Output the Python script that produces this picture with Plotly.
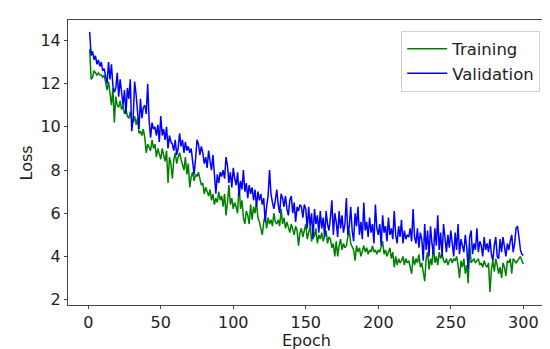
import plotly.graph_objects as go

epochs = list(range(1, 301))

training = [
    13.6, 12.2, 12.3, 12.6, 12.5, 12.4, 12.5, 12.4, 12.4, 12.3,
    12.4, 12.0, 11.7, 12.1, 11.5, 11.0, 11.8, 10.2, 11.4, 11.0,
    10.9, 11.2, 10.8, 11.0, 10.6, 10.8, 10.5, 10.4, 10.7, 10.3,
    10.2, 10.5, 10.1, 10.4, 9.7, 9.8, 9.6, 9.9, 9.5, 8.8,
    9.2, 9.0, 8.9, 9.4, 9.0, 9.2, 8.6, 9.0, 8.8, 8.5,
    9.0, 8.7, 8.4, 8.9, 7.4, 8.6, 8.3, 7.6, 8.5, 8.8,
    8.3, 8.6, 8.8, 8.5, 8.2, 8.0, 8.6, 7.8, 8.3, 7.2,
    7.7, 7.9, 7.5, 7.8, 7.7, 7.9, 7.6, 7.3, 7.4, 6.9,
    7.2, 7.0, 6.8, 7.1, 6.6, 6.9, 6.4, 6.7, 6.5, 7.0,
    6.6, 6.8, 6.3, 6.9, 5.9, 6.5, 7.3, 6.4, 6.7, 6.2,
    6.5, 6.3, 6.0, 7.4, 6.2, 6.6, 5.8, 5.5, 6.1, 5.9,
    5.5, 6.4, 5.7, 6.3, 6.0, 6.5, 5.8, 5.6, 5.2, 5.0,
    5.6, 5.9, 5.3, 5.8, 5.5, 5.7, 5.4, 6.0, 5.6, 5.5,
    5.7, 5.4, 6.2, 5.5, 5.8, 5.3, 5.6, 5.4, 5.1, 5.5,
    5.3, 5.0, 5.4, 5.2, 4.5, 5.1, 5.3, 4.9, 5.2, 5.5,
    4.8, 5.1, 5.4, 4.7, 5.2, 4.9, 5.3, 4.6, 5.0, 4.8,
    5.1, 4.7, 4.9, 5.2, 4.6, 4.9, 4.8, 4.4, 4.6, 4.0,
    4.7, 4.0, 4.5, 4.8, 4.3, 4.6, 4.4, 4.5, 4.9, 5.2,
    4.6, 4.4, 4.3, 3.8, 4.5, 4.2, 4.4, 4.0, 4.3, 4.5,
    4.2, 4.4, 4.1, 4.3, 4.2, 4.5, 4.2, 4.3, 4.1, 4.3,
    4.2, 4.4, 4.7, 4.1, 4.3, 4.0, 4.2, 4.4, 3.9, 4.2,
    3.5, 4.0, 3.6, 3.9, 3.7, 3.8, 4.0, 3.6, 3.9, 3.7,
    3.8, 3.5, 3.2, 4.0, 3.6, 3.9, 3.7, 4.1, 3.5, 3.7,
    3.3, 2.85, 3.9, 4.2, 3.4, 3.9, 3.6, 4.5, 3.7, 4.0,
    3.6, 4.2, 3.9, 4.1, 3.8, 3.7, 3.9, 3.6, 3.8, 3.9,
    3.7, 3.9, 3.8, 4.0, 3.6, 3.0, 3.8, 3.5, 3.9, 3.2,
    3.6, 2.75, 4.6, 3.7, 3.8, 3.9, 3.7, 3.8, 3.9, 3.6,
    3.7, 3.5, 3.8, 3.6, 3.5, 3.7, 2.35, 3.4, 3.8, 3.3,
    3.9, 3.6, 3.2, 3.5, 3.0, 3.7, 3.5, 3.1, 3.8, 3.7,
    3.9, 3.2, 3.9, 3.8, 3.7, 3.8, 3.9, 4.0, 3.8, 3.65,
]

validation = [
    14.4, 13.3, 13.5, 13.1, 13.3, 12.9, 13.1, 12.8, 13.0, 12.6,
    12.7, 12.3, 12.0, 13.0, 12.2, 12.9, 11.9, 11.6, 11.8, 12.5,
    11.4, 12.2, 11.6, 11.0, 11.7, 10.6, 11.8, 11.3, 12.2, 9.8,
    10.4, 12.1, 11.5, 10.5, 9.9, 11.3, 10.4, 10.9, 11.0, 10.6,
    12.0, 10.3, 9.5, 10.2, 9.9, 10.0, 9.6, 10.1, 9.3, 10.5,
    9.6, 9.9, 9.4, 10.0, 9.0, 9.6, 9.3, 9.2, 8.9, 9.4,
    8.7, 9.0, 9.7, 9.1, 9.4, 8.8, 9.3, 8.9, 9.1, 8.8,
    9.0, 8.4, 7.8, 8.5, 9.4, 9.2, 8.7, 9.1, 8.8, 8.3,
    8.6, 8.1, 8.9, 8.4, 8.0, 8.7, 7.6, 6.9, 7.8, 7.4,
    7.9, 7.7, 8.0, 7.6, 8.6, 8.2, 7.4, 7.9, 7.2, 8.1,
    7.6, 7.3, 7.9, 6.8, 7.5, 7.1, 8.0, 7.0, 7.4, 6.7,
    7.3, 6.9, 7.2, 6.6, 7.1, 6.3, 7.0, 6.6, 6.9, 6.4,
    6.7, 5.6, 6.3, 6.8, 8.0, 6.9, 6.5, 6.2, 6.6, 7.1,
    6.4, 6.0, 6.9, 6.7, 6.3, 6.8, 6.2, 5.9, 6.6, 6.8,
    6.0, 6.5, 5.6, 6.3, 6.1, 6.4, 6.3, 5.8, 6.4, 6.2,
    5.3, 6.3, 5.4, 6.0, 4.8, 6.2, 5.5, 5.9, 5.1, 6.1,
    5.3, 5.8, 4.9, 6.1, 5.5, 5.2, 5.8, 6.6, 5.0, 6.0,
    5.6, 4.9, 6.1, 5.3, 5.9, 5.1, 5.5, 6.7, 5.0, 5.4,
    6.3, 5.2, 4.7, 6.0, 5.4, 6.3, 5.0, 5.6, 4.8, 6.5,
    5.2, 5.6, 4.9, 5.8, 5.1, 5.5, 4.6, 6.4, 5.3, 5.0,
    5.5, 4.5, 5.9, 5.1, 5.4, 4.7, 5.8, 5.0, 5.3, 4.8,
    6.1, 5.0, 4.6, 5.4, 4.9, 5.7, 4.6, 5.2, 4.8, 5.0,
    4.9, 5.3, 4.7, 6.2, 4.9, 4.6, 5.3, 4.4, 5.1, 4.8,
    3.8, 5.5, 4.3, 5.2, 4.0, 5.4, 4.6, 4.1, 5.3, 4.5,
    5.9, 4.3, 5.1, 4.0, 5.5, 4.7, 4.2, 5.0, 4.4, 5.2,
    4.6, 4.0, 5.1, 4.3, 5.5, 4.1, 4.8, 4.4, 4.2, 5.0,
    4.4, 3.4, 4.9, 5.2, 4.1, 4.6, 4.3, 5.3, 4.2, 4.7,
    4.5, 4.0, 4.9, 4.3, 4.6, 4.2, 4.8, 4.1, 3.8, 4.5,
    4.9, 4.0, 3.9, 4.8, 4.2, 4.9, 4.4, 4.0, 4.6, 4.3,
    4.7, 5.0, 4.2, 4.6, 5.3, 5.4, 4.9, 4.3, 4.1, 4.05,
]

x_ticks = [0, 50, 100, 150, 200, 250, 300]
y_ticks = [2, 4, 6, 8, 10, 12, 14]

FONT = "DejaVu Sans"
TXT = "#222222"

fig = go.Figure()
fig.add_trace(go.Scatter(x=epochs, y=training, mode="lines", name="Training",
                         line=dict(color="#008000", width=1.5)))
fig.add_trace(go.Scatter(x=epochs, y=validation, mode="lines", name="Validation",
                         line=dict(color="#0000ff", width=1.5)))

axis_common = dict(showgrid=False, zeroline=False, showline=True, mirror=True,
                   linecolor="#444444", linewidth=1, ticks="outside", ticklen=3,
                   tickcolor="#444444", tickfont=dict(family=FONT, size=16, color=TXT))

fig.update_layout(
    width=550, height=349,
    margin=dict(l=60, r=13, t=12, b=52),
    paper_bgcolor="white", plot_bgcolor="white",
    font=dict(family=FONT, size=16, color=TXT),
    xaxis=dict(range=[-13.95, 314.95], tickvals=x_ticks, **axis_common),
    yaxis=dict(range=[1.75, 14.95], tickvals=y_ticks, **axis_common),
    legend=dict(x=0.99, y=0.963, xanchor="right", yanchor="top",
                bgcolor="rgba(255,255,255,0.8)", bordercolor="#d0d0d0", borderwidth=1,
                font=dict(family=FONT, size=16.5, color=TXT),
                tracegroupgap=0, itemwidth=40),
    showlegend=True,
    annotations=[
        dict(text="Epoch", xref="paper", yref="paper", x=0.5, y=-0.123,
             xanchor="center", yanchor="middle", showarrow=False,
             font=dict(family=FONT, size=16, color=TXT)),
        dict(text="Loss", xref="paper", yref="paper", x=-0.086, y=0.5,
             xanchor="center", yanchor="middle", textangle=-90, showarrow=False,
             font=dict(family=FONT, size=16, color=TXT)),
    ],
)

fig.write_html("out.html")
